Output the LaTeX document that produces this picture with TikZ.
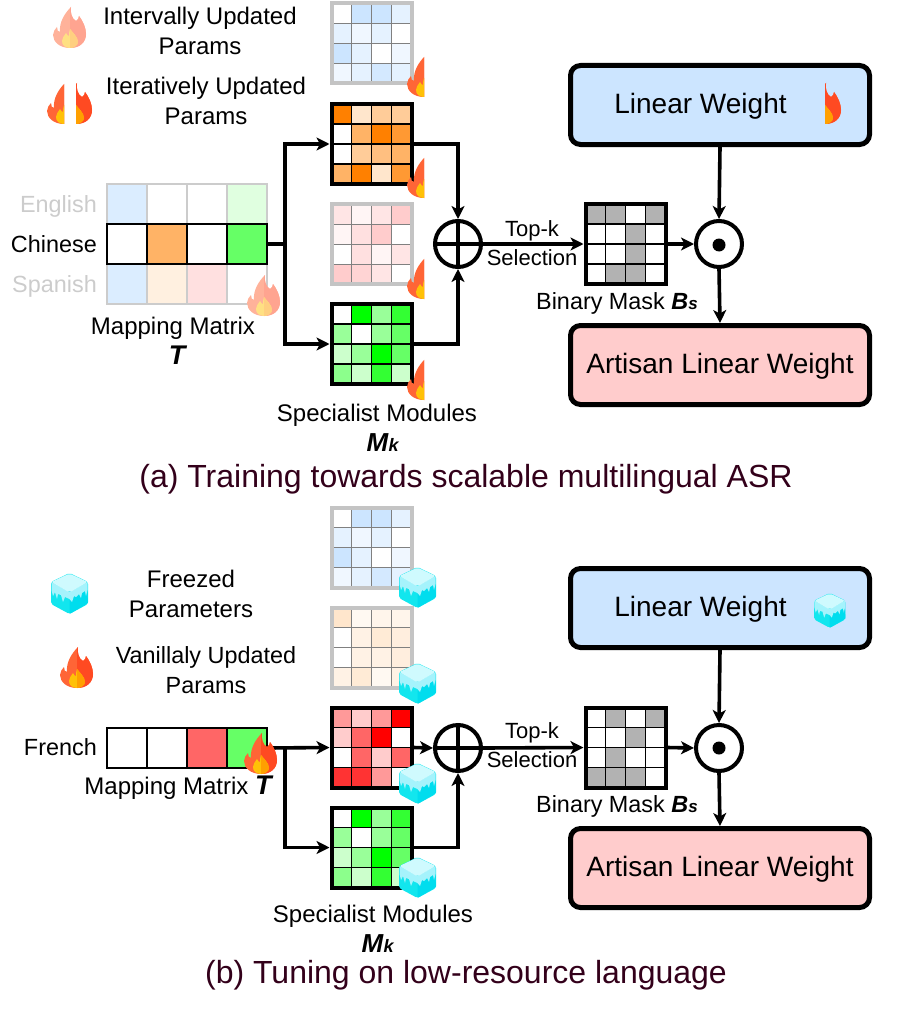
\documentclass[tikz,border=0pt]{standalone}
\usepackage{fontspec}
\setmainfont{Liberation Sans}
\usepackage{tikz}
\usetikzlibrary{arrows.meta}

\definecolor{blu}{HTML}{007FFF}
\definecolor{org}{HTML}{FF8000}
\definecolor{boxblue}{HTML}{CCE5FF}
\definecolor{boxred}{HTML}{FFCCCC}
\definecolor{capcolor}{HTML}{33001A}
\definecolor{flameA}{HTML}{FF6536}
\definecolor{flameB}{HTML}{FF4A22}
\definecolor{flameC}{HTML}{FFC107}
\definecolor{flameD}{HTML}{FFA000}
\definecolor{iceleft}{HTML}{12E6EE}
\definecolor{iceright}{HTML}{00DDEE}
\definecolor{icemid}{HTML}{A5F3FC}
\definecolor{icetop}{HTML}{CFFAFE}

\tikzset{
  cellon/.style={draw=black, line width=1.2pt},
  celloff/.style={draw=black!50, line width=.6pt},
  gridon/.style={draw=black, line width=4pt},
  gridoff/.style={draw=black!23, line width=4pt},
  rowon/.style={draw=black, line width=2pt},
  rowoff/.style={draw=black!20, line width=2pt},
  wire/.style={line width=3.6pt, line join=miter},
  arr/.style={wire, -{Stealth[length=13pt,width=13pt,inset=3.5pt]}},
  weighttxt/.style={font=\fontsize{28}{30}\selectfont, text height=22pt, text depth=5pt},
  weightbox/.style={rectangle, rounded corners=10pt, draw=black, line width=5pt,
    minimum width=299pt, minimum height=79pt, weighttxt},
  opcircle/.style={circle, draw=black, line width=4pt, minimum size=46pt, inner sep=0pt, fill=white},
  txt/.style={inner sep=0pt, font=\fontsize{24}{30}\selectfont, align=center},
  lowtxt/.style={inner sep=0pt, font=\fontsize{23.4}{30}\selectfont, align=center},
  smalltxt/.style={inner sep=0pt, font=\fontsize{22}{28}\selectfont, align=center},
  captxt/.style={inner sep=0pt, font=\fontsize{32}{34}\selectfont, text=capcolor},
}

% 4x4 matrix, #1 name, #2/#3 centre, #4 cell colours, #5 on or off
\newcommand{\heatgrid}[5]{
  \foreach \cellc [count=\i from 0] in {#4} {
    \pgfmathtruncatemacro{\r}{int(\i/4)}
    \pgfmathtruncatemacro{\q}{mod(\i,4)}
    \path[fill=\cellc, cell#5] ({#2-40+20*\q},{#3-40+20*\r}) rectangle ++(20,20);
  }
  \node[grid#5, minimum size=80pt, inner sep=0pt] (#1) at (#2,#3) {};
}

% one row of the mapping matrix
\newcommand{\maprow}[5]{
  \foreach \cellc [count=\i from 0] in {#4} {
    \path[fill=\cellc, row#5] ({#2-80+40*\i},{#3-20}) rectangle ++(40,40);
  }
  \node[row#5, minimum width=160pt, minimum height=40pt, inner sep=0pt] (#1) at (#2,#3) {};
}

\newcommand{\flameout}{(17,41) .. controls (7,41) and (0,35) .. (0,28) .. controls (0,25) and (2,22) .. (4,20)
  .. controls (4,23) and (5,25) .. (7,25) .. controls (6,15) and (12,6) .. (18,0)
  .. controls (17,6) and (19,12) .. (23,14) .. controls (25,13) and (26,11) .. (26,9)
  .. controls (30,14) and (33,21) .. (33,27) .. controls (33,35) and (27,41) .. (17,41) -- cycle}
\newcommand{\flamein}{(17,41) .. controls (12,41) and (9,38) .. (9,34) .. controls (9,31) and (11,29) .. (13,26)
  .. controls (14,28) and (15,29) .. (16,29) .. controls (16,27) and (16,25) .. (17,22)
  .. controls (19,25) and (25,30) .. (25,35) .. controls (25,38) and (21,41) .. (17,41) -- cycle}

% flame icon, #1/#2 top left, #3 strength, #4/#5 visible x range
\newcommand{\flameicon}[5]{
  \begin{scope}[shift={(#1,#2)}]
    \clip (#4,-1) rectangle (#5,42);
    \fill[fill=flameA!#3!white] \flameout;
    \begin{scope}
      \clip (17,-1) rectangle (40,42);
      \fill[fill=flameB!#3!white] \flameout;
    \end{scope}
    \fill[fill=flameC!#3!white] \flamein;
    \begin{scope}
      \clip (17,-1) rectangle (40,42);
      \fill[fill=flameD!#3!white] \flamein;
    \end{scope}
  \end{scope}
}

% ice cube, #1/#2 top left, #3 scale
\newcommand{\icecube}[3]{
  \begin{scope}[shift={(#1,#2)}, scale=#3]
    \fill[iceleft, rounded corners=2pt] (18.5,0) -- (37,9) -- (37,31) -- (18.5,41) -- (0,31) -- (0,9) -- cycle;
    \fill[iceright] (18.5,22) -- (36,10) -- (37,30) -- (18.5,41) -- cycle;
    \fill[icemid] (0.5,9) -- (18.5,19) -- (36.5,9) -- (36.5,17) -- (35,23) -- (34,18) -- (31,20) -- (30,25) -- (28,21)
      -- (25,24) -- (23,23) -- (21,29) -- (18.5,26) -- (14,24) -- (12,29) -- (10,22) -- (7,21) -- (6,26) -- (4,19)
      -- (2,23) -- (.5,17) -- cycle;
    \fill[icetop, rounded corners=2pt] (18.5,.5) -- (36.5,9) -- (18.5,19.5) -- (.5,9) -- cycle;
  \end{scope}
}

\newcommand{\bmt}{\textbf{\textit{\fontsize{27}{30}\selectfont T}}}
\newcommand{\bmm}{\textbf{\textit{\fontsize{26}{30}\selectfont M}{\fontsize{18}{18}\selectfont\textit{k}}}}
\newcommand{\bmb}{\textbf{\textit{B}{\fontsize{17}{17}\selectfont\textit{s}}}}

\begin{document}
\begin{tikzpicture}[x=1pt, y=-1pt]

\useasboundingbox (0,0) rectangle (912,1014);

% ---- part (a)
\maprow{english}{187}{204}{blu!14,white,white,green!12}{off}
\maprow{spanish}{187}{284}{blu!14,org!12,red!12,white}{off}
\maprow{chinese}{187}{244}{white,org!60,white,green!60}{on}

\heatgrid{blueA}{371.5}{43.5}{white,blu!20,blu!20,blu!10,blu!10,blu!6,blu!10,white,blu!20,blu!10,white,blu!6,blu!6,blu!10,blu!17,blu!10}{off}
\heatgrid{orangeA}{371.5}{144}{org,org!20,org!40,org!40,white,org!60,org,org!80,white,org!40,org!50,org!60,org!60,org,org!20,org!80}{on}
\heatgrid{pinkA}{371.5}{244}{red!10,red!4,red!10,red!20,red!4,red!12,red!20,white,white,red!12,red!4,red!10,red!20,red!17,red!10,white}{off}
\heatgrid{greenA}{371.5}{344}{white,green,green!40,green!80,green!40,white,green!40,green!60,green!20,green!40,green,green!60,green!45,green!20,green!80,green!20}{on}
\heatgrid{maskA}{625.5}{244}{black!30,black!30,white,black!30,white,white,black!30,white,white,white,black!30,white,white,black!30,black!30,white}{on}

\node[opcircle] (oplusA) at (458,244) {};
\node[opcircle] (odotA) at (719,244) {};
\node[circle, fill=black, minimum size=13pt, inner sep=0pt] (dotA) at (719,245) {};
\node[weightbox, fill=boxblue] (linearA) at (720,105) {};
\node[weightbox, fill=boxred] (artisanA) at (720,365) {Artisan Linear Weight};
\node[inner sep=0pt, weighttxt] (lwA) at (700.5,105) {Linear Weight};

\coordinate (jnA) at (285,244);
\draw[wire] (chinese.east) -- (jnA);
\draw[arr] (jnA) |- (orangeA.west);
\draw[arr] (jnA) |- (greenA.west);
\draw[arr] (orangeA.east) -| (oplusA.north);
\draw[arr] (greenA.east) -| (oplusA.south);
\draw[wire] (oplusA.north) -- (oplusA.south);
\draw[wire] (oplusA.west) -- (oplusA.east);
\draw[arr] (oplusA.east) -- (maskA.west);
\draw[arr] (maskA.east) -- (odotA.west);
\draw[arr] (linearA.south) -- (odotA.north);
\draw[arr] (odotA.south) -- (artisanA.north);

\node[smalltxt] (topkA) at (532,231) {Top-k};
\node[smalltxt] (selA) at (532,258) {Selection};
\node[lowtxt] (binA) at (617,303) {Binary Mask \bmb};

\node[txt] (intv) at (200,31) {Intervally Updated\\Params};
\node[txt] (iter) at (206,101) {Iteratively Updated\\Params};
\node[lowtxt, anchor=base east, text=black!20] (engl) at (97,212) {English};
\node[lowtxt, anchor=base east] (chin) at (97,252) {Chinese};
\node[lowtxt, anchor=base east, text=black!20] (span) at (97,292) {Spanish};
\node[txt] (mapA) at (173,341) {Mapping Matrix\\\hspace*{10pt}\bmt};
\node[txt] (specA) at (377,428) {Specialist Modules\\\hspace*{12pt}\bmm};
\node[captxt] (capA) at (466,479) {(a) Training towards scalable multilingual ASR};

\flameicon{53}{7}{50}{0}{40}
\flameicon{47}{83}{100}{0}{17}
\flameicon{59}{83}{100}{17}{40}
\flameicon{407}{56}{100}{0}{17}
\flameicon{407}{157}{100}{0}{17}
\flameicon{407}{258}{100}{0}{17}
\flameicon{407}{359}{100}{0}{17}
\flameicon{247}{275}{50}{0}{40}
\flameicon{808}{83}{100}{17}{40}

% ---- part (b)
\maprow{french}{187}{748}{white,white,red!60,green!60}{on}

\heatgrid{blueB}{371.5}{547.5}{white,blu!20,blu!20,blu!10,blu!10,blu!6,blu!10,white,blu!20,blu!10,white,blu!6,blu!6,blu!10,blu!17,blu!10}{off}
\heatgrid{peachB}{371.5}{647.5}{org!20,org!5,org!8,org!8,white,org!10,org!16,org!13,white,org!10,org!10,org!13,org!10,org!16,org!5,org!10}{off}
\heatgrid{redB}{371.5}{747.5}{red!40,red!20,red!40,red,red!20,red!60,red,white,white,red!60,red!20,red!60,red!80,red!80,red!40,white}{on}
\heatgrid{greenB}{371.5}{847.5}{white,green,green!40,green!80,green!40,white,green!40,green!60,green!20,green!40,green,green!60,green!45,green!20,green!80,green!20}{on}
\heatgrid{maskB}{625.5}{747.5}{white,black!30,white,black!30,white,white,black!30,white,white,black!30,white,white,black!30,black!30,black!30,white}{on}

\node[opcircle] (oplusB) at (458,748) {};
\node[opcircle] (odotB) at (719,748) {};
\node[circle, fill=black, minimum size=13pt, inner sep=0pt] (dotB) at (719,748) {};
\node[weightbox, fill=boxblue] (linearB) at (720,608) {};
\node[weightbox, fill=boxred] (artisanB) at (720,868) {Artisan Linear Weight};
\node[inner sep=0pt, weighttxt] (lwB) at (700.5,608) {Linear Weight};

\coordinate (jnB) at (285,748);
\draw[arr] (french.east) -- (redB.west);
\draw[arr] (jnB) |- (greenB.west);
\draw[arr] (redB.east) -- (oplusB.west);
\draw[arr] (greenB.east) -| (oplusB.south);
\draw[wire] (oplusB.north) -- (oplusB.south);
\draw[wire] (oplusB.west) -- (oplusB.east);
\draw[arr] (oplusB.east) -- (maskB.west);
\draw[arr] (maskB.east) -- (odotB.west);
\draw[arr] (linearB.south) -- (odotB.north);
\draw[arr] (odotB.south) -- (artisanB.north);

\node[smalltxt] (topkB) at (532,733) {Top-k};
\node[smalltxt] (selB) at (532,760) {Selection};
\node[lowtxt] (binB) at (617,806) {Binary Mask \bmb};

\node[txt] (freez) at (191,594) {Freezed\\Parameters};
\node[lowtxt] (vanil) at (206,670) {Vanillaly Updated\\Params};
\node[lowtxt, anchor=base east] (fren) at (97,755) {French};
\node[txt] (mapB) at (179,788) {Mapping Matrix \bmt};
\node[txt] (specB) at (373,929) {Specialist Modules\\\hspace*{10pt}\bmm};
\node[captxt] (capB) at (466,975) {(b) Tuning on low-resource language};

\icecube{51}{573}{1}
\flameicon{60}{647}{100}{0}{40}
\flameicon{244}{733}{100}{0}{40}
\icecube{399}{567}{1}
\icecube{399}{663}{1}
\icecube{399}{763}{1}
\icecube{399}{857}{1}
\icecube{814}{593}{.85}

\end{tikzpicture}
\end{document}
